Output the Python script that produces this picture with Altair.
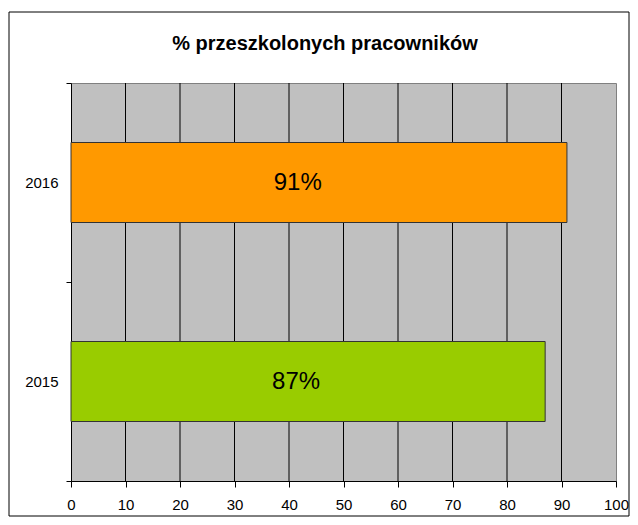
import altair as alt
import pandas as pd

years = ["2016", "2015"]
values = [91, 87]
labels = ["91%", "87%"]
label_pos = [41.6, 41.3]
colors = ["#FF9900", "#99CC00"]
grid_values = [10, 20, 30, 40, 50, 60, 70, 80, 90]
x_ticks = [0, 10, 20, 30, 40, 50, 60, 70, 80, 90, 100]
title_text = "% przeszkolonych pracowników"

df = pd.DataFrame({"year": years, "value": values, "label": labels,
                   "pos": label_pos})
grid_df = pd.DataFrame({"g": grid_values})

FONT = "Liberation Sans"
W, H = 545, 398

xscale = alt.Scale(domain=[0, 100], nice=False, zero=True)
yscale = alt.Scale(domain=years, paddingInner=0, paddingOuter=0)

border = alt.Chart(alt.Data(values=[{}])).mark_rect(
    fill=None, stroke="black", strokeWidth=1, clip=False
).encode(x=alt.value(-62), x2=alt.value(558), y=alt.value(-71), y2=alt.value(433))

title = alt.Chart(alt.Data(values=[{}])).mark_text(
    text=title_text, font=FONT, fontSize=20, fontWeight="bold",
    align="center", baseline="alphabetic", color="black", clip=False
).encode(x=alt.value(254), y=alt.value(-33))

grid = alt.Chart(grid_df).mark_rule(color="black", strokeWidth=1).encode(
    x=alt.X("g:Q", scale=xscale)
)

bars = alt.Chart(df).mark_bar(size=80, stroke="#333333", strokeWidth=1).encode(
    x=alt.X("value:Q", scale=xscale,
            axis=alt.Axis(values=x_ticks, title=None, grid=False, tickSize=6,
                          labelPadding=10, labelFlush=False, labelOverlap=False,
                          domainColor="black", tickColor="black")),
    y=alt.Y("year:N", scale=yscale, sort=years,
            axis=alt.Axis(title=None, tickBand="extent", tickSize=5,
                          labelPadding=8, domainColor="black", tickColor="black")),
    color=alt.Color("year:N", scale=alt.Scale(domain=years, range=colors), legend=None),
)

text = alt.Chart(df).mark_text(font=FONT, fontSize=24, color="black",
                               align="center", baseline="middle").encode(
    x=alt.X("pos:Q", scale=xscale),
    y=alt.Y("year:N", scale=yscale, sort=years),
    text="label:N",
)

chart = alt.layer(border, title, grid, bars, text).properties(
    width=W, height=H,
    autosize=alt.AutoSizeParams(type="none"),
    padding={"left": 63, "top": 75, "right": 14, "bottom": 36},
    background="white",
).configure_view(
    fill="#C0C0C0", stroke="#808080", strokeWidth=1
).configure_axis(
    labelFont=FONT, labelFontSize=15, labelColor="black", domainWidth=1, tickWidth=1
)

chart.save("out.html", embed_options={"renderer": "svg", "actions": False})
